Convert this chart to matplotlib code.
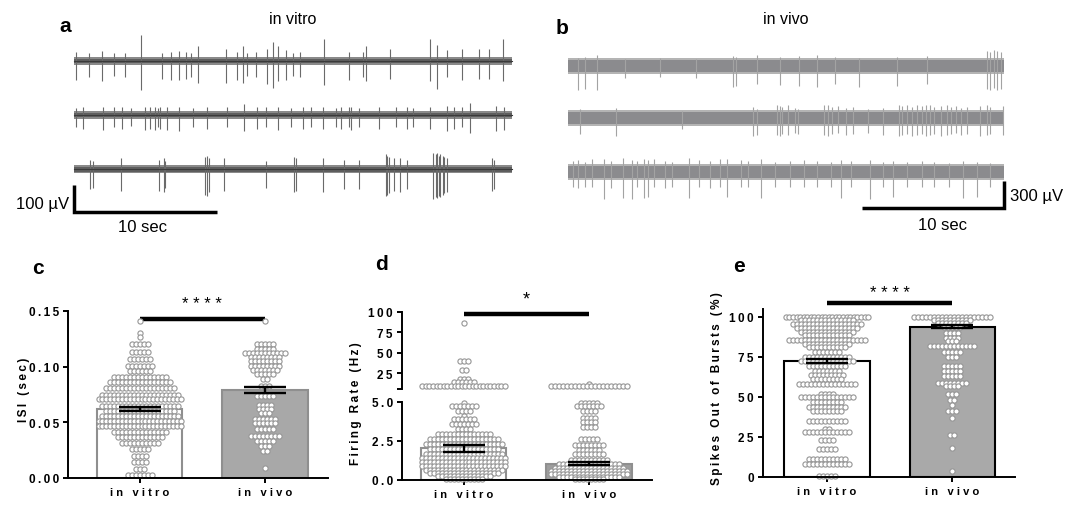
import numpy as np
import matplotlib.pyplot as plt

plt.rcParams['font.family'] = ['Liberation Sans', 'DejaVu Sans']

# ---- trace data: spike times (s), up / down amplitudes (uV) ----
vitro_len = 30.6
vitro_t1 = [0.17, 1.04, 1.98, 2.77, 3.54, 4.70, 6.15, 6.80, 7.35, 7.83, 8.19, 8.68, 10.6, 11.4, 11.8, 12.1, 12.7,
            13.5, 13.9, 14.3, 14.8, 15.3, 15.8, 17.5, 19.2, 20.2, 20.4, 22.1, 24.9, 25.4, 26.1, 27.1, 28.3, 29.0, 30.0]
vitro_up1 = [35, 30, 38, 30, 30, 96, 30, 35, 38, 35, 30, 55, 45, 35, 55, 30, 35,
             45, 70, 55, 40, 30, 35, 80, 35, 35, 55, 45, 80, 60, 40, 45, 45, 45, 80]
vitro_dn1 = [70, 60, 75, 55, 60, 108, 65, 70, 72, 65, 60, 80, 80, 70, 80, 55, 60,
             85, 100, 75, 70, 55, 60, 90, 70, 60, 75, 65, 75, 105, 60, 70, 65, 65, 75]
vitro_t2 = [0.17, 0.60, 2.05, 2.77, 3.37, 3.98, 4.94, 5.30, 5.66, 5.86, 6.03, 6.51, 7.35, 8.31, 9.28, 10.7, 11.9,
            12.8, 13.4, 14.3, 15.2, 16.0, 16.6, 17.4, 18.3, 18.7, 19.2, 19.4, 19.9, 21.3, 22.5, 23.3, 23.7, 24.9,
            26.1, 26.6, 27.1, 27.7, 29.5, 30.1]
vitro_up2 = [25, 28, 30, 28, 30, 25, 30, 28, 30, 25, 28, 30, 28, 25, 30, 28, 40,
             30, 28, 30, 25, 30, 28, 30, 25, 30, 28, 30, 25, 30, 28, 30, 25, 30,
             35, 30, 28, 45, 35, 30]
vitro_dn2 = [45, 50, 55, 45, 50, 40, 55, 50, 55, 45, 50, 55, 60, 45, 50, 45, 60,
             50, 45, 55, 45, 50, 45, 50, 45, 50, 45, 55, 45, 50, 45, 50, 45, 50,
             60, 50, 45, 65, 60, 55]
vitro_t3 = [1.13, 1.33, 3.30, 5.95, 6.27, 6.39, 9.16, 9.28, 9.45, 10.5, 13.4, 15.4, 15.5, 17.4, 18.9, 19.9,
            21.8, 21.9, 22.0, 22.4, 22.8, 23.3, 25.1, 25.3, 25.4, 25.5, 25.6, 25.8, 25.9, 26.1, 29.2, 29.4]
vitro_up3 = [35, 30, 40, 35, 40, 30, 45, 50, 40, 40, 30, 45, 40, 40, 35, 35,
             55, 50, 45, 40, 40, 35, 60, 55, 58, 50, 55, 50, 45, 40, 40, 35]
vitro_dn3 = [75, 70, 80, 80, 85, 70, 95, 100, 85, 80, 70, 85, 80, 85, 75, 75,
             100, 95, 90, 80, 85, 75, 110, 105, 108, 100, 105, 95, 90, 85, 80, 75]

vivo_len = 30.7
vivo_t1 = [0.68, 1.22, 2.07, 4.0, 6.5, 9.0, 11.6, 11.8, 13.3, 14.9, 16.3, 17.5, 18.8, 20.5, 23.2, 25.3,
           29.5, 29.7, 30.0, 30.2, 30.5]
vivo_up1 = [90, 100, 120, 80, 90, 80, 110, 100, 120, 100, 110, 120, 100, 90, 100, 110,
            160, 150, 170, 160, 150]
vivo_dn1 = [270, 260, 270, 130, 120, 130, 230, 220, 200, 210, 220, 240, 200, 230, 220, 200,
            260, 270, 250, 270, 260]
vivo_t2 = [0.85, 3.41, 8.0, 13.0, 13.3, 14.7, 14.9, 15.1, 15.5, 16.0, 16.2, 18.0, 18.3, 18.6, 19.0, 19.6,
           20.1, 21.1, 22.2, 23.3, 23.5, 23.9, 24.2, 24.6, 24.9, 25.2, 25.5, 25.8, 26.3, 26.7, 27.0, 27.3,
           27.7, 28.1, 29.0, 29.5, 29.7, 30.6]
vivo_up2 = [100, 110, 80, 120, 100, 140, 130, 120, 140, 110, 100, 150, 140, 120, 130, 110,
            120, 100, 110, 140, 130, 150, 120, 140, 130, 150, 140, 120, 130, 140, 120, 130,
            110, 120, 130, 140, 120, 130]
vivo_dn2 = [180, 200, 120, 200, 190, 190, 200, 180, 190, 170, 180, 190, 200, 180, 170, 190,
            180, 170, 190, 200, 190, 180, 200, 190, 180, 200, 190, 180, 200, 190, 180, 170,
            190, 180, 200, 190, 180, 190]
vivo_t3 = [0.37, 0.73, 1.22, 1.71, 2.56, 3.05, 3.90, 4.51, 4.87, 5.36, 5.60, 6.09, 6.82, 7.31, 8.53, 9.26,
           9.99, 10.7, 11.2, 12.2, 12.7, 13.6, 14.6, 15.6, 16.6, 17.5, 18.5, 19.2, 19.9, 21.3, 22.2, 22.9,
           23.9, 24.9, 25.8, 26.8, 27.8, 28.8, 29.7]
vivo_up3 = [120, 130, 110, 140, 150, 120, 160, 130, 120, 140, 130, 150, 120, 110, 160, 130,
            120, 140, 150, 130, 120, 140, 110, 120, 130, 120, 110, 130, 120, 130, 110, 120,
            110, 120, 110, 100, 120, 110, 100]
vivo_dn3 = [170, 180, 160, 170, 300, 180, 290, 300, 170, 290, 280, 170, 180, 160, 290, 170,
            180, 170, 280, 170, 160, 290, 170, 160, 170, 160, 170, 290, 170, 300, 170, 280,
            160, 170, 160, 170, 290, 280, 170]

# ---- scatter data: (value, number of cells at that value) ----
isi_vitro = [(0.141, 1), (0.130, 1), (0.127, 1), (0.120, 5), (0.113, 5), (0.107, 6), (0.101, 7), (0.096, 6),
             (0.091, 14), (0.086, 16), (0.081, 18), (0.075, 20), (0.071, 22), (0.065, 20), (0.060, 18),
             (0.056, 20), (0.051, 22), (0.047, 22), (0.041, 14), (0.037, 12), (0.031, 10), (0.026, 5),
             (0.020, 4), (0.014, 4), (0.008, 3), (0.003, 7)]
isi_vivo = [(0.141, 1), (0.120, 5), (0.116, 5), (0.112, 11), (0.109, 8), (0.105, 8), (0.101, 8), (0.097, 7),
            (0.093, 5), (0.089, 2), (0.083, 3), (0.074, 5), (0.066, 4), (0.062, 4), (0.058, 3), (0.053, 6),
            (0.049, 6), (0.044, 5), (0.038, 8), (0.033, 5), (0.029, 3), (0.024, 2), (0.009, 1)]
isi_mean = [0.062, 0.079]
isi_sem = [0.0018, 0.003]

fr_vitro = [(87, 1), (40, 3), (29, 2), (18, 3), (14, 6), (9.5, 24), (4.94, 1), (4.74, 7), (4.4, 4), (4.1, 1),
            (3.9, 6), (3.6, 7), (3.3, 4), (2.95, 14), (2.63, 18), (2.3, 20), (2.0, 18), (1.67, 20), (1.4, 22),
            (1.15, 22), (0.9, 22), (0.65, 20), (0.45, 18), (0.25, 14), (0.08, 10)]
fr_vivo = [(12, 1), (9.5, 20), (4.94, 5), (4.74, 7), (4.4, 4), (4.0, 4), (3.7, 4), (3.4, 4), (2.63, 5),
           (2.25, 8), (1.95, 6), (1.67, 8), (1.3, 10), (1.0, 16), (0.8, 18), (0.6, 20), (0.4, 20), (0.2, 16),
           (0.05, 8)]
fr_mean = [2.02, 1.05]
fr_sem = [0.25, 0.1]

sob_vitro = [(100, 24), (98, 14), (95.6, 18), (93, 16), (90.6, 14), (89, 12), (85.6, 20), (83, 12), (81.3, 10),
             (78.4, 7), (75, 12), (72.5, 14), (69.4, 10), (66.3, 7), (63.8, 9), (61, 8), (58, 15), (52, 4),
             (50, 14), (47, 8), (44, 10), (41, 8), (35, 10), (30, 2), (28, 12), (23, 4), (17.5, 5), (11, 10),
             (8, 12), (0.5, 5)]
sob_vivo = [(100, 20), (98, 10), (96.5, 8), (94, 5), (90, 4), (87, 4), (85, 3), (82, 12), (78, 5), (75, 3),
            (69.4, 5), (66.3, 5), (63, 5), (59, 8), (57, 4), (52, 3), (48, 2), (45, 1), (41, 3), (37, 1),
            (26, 2), (18, 1), (4, 1)]
sob_mean = [72.5, 94.0]
sob_sem = [1.5, 1.0]

groups = ['in vitro', 'in vivo']

W, H = 1083, 506
fig = plt.figure(figsize=(W / 100, H / 100), dpi=100)


def box(x0, y0, x1, y1):
    return [x0 / W, 1 - y1 / H, (x1 - x0) / W, (y1 - y0) / H]


def spaced(s, gap=' '):
    return gap.join(s)


def thin(s):
    return spaced(s, '\u2009')


def ftext(px, py, s, **kw):
    fig.text(px / W, 1 - py / H, s, **kw)


# ---------------- panel a ----------------
axa = fig.add_axes(box(60, 20, 520, 240))
axa.set_xlim((60 - 74) / 14.3, (520 - 74) / 14.3)
axa.set_ylim((62 - 240) * 3.7, (62 - 20) * 3.7)
axa.axis('off')
for base, t, up, dn in [(0, vitro_t1, vitro_up1, vitro_dn1),
                        (-200, vitro_t2, vitro_up2, vitro_dn2),
                        (-400, vitro_t3, vitro_up3, vitro_dn3)]:
    axa.vlines(t, base - np.array(dn), base + np.array(up), color='#6a6a6a', lw=0.8)
    axa.fill_between([0, vitro_len], base - 15, base + 15, color='#8a8a8a', lw=0)
    axa.fill_between([0, vitro_len], base - 9, base + 9, color='#5e5e5e', lw=0)
    axa.plot([0, vitro_len], [base, base], color='#3a3a3a', lw=0.8)
axa.plot([0, 0, 10], [-460, -560, -560], color='k', lw=2.5, solid_joinstyle='miter', solid_capstyle='butt')

# ---------------- panel b ----------------
axb = fig.add_axes(box(550, 20, 1075, 240))
axb.set_xlim((550 - 568) / 14.2, (1075 - 568) / 14.2)
axb.set_ylim((65 - 240) * 11.1, (65 - 20) * 11.1)
axb.axis('off')
for base, t, up, dn in [(-20, vivo_t1, vivo_up1, vivo_dn1),
                        (-600, vivo_t2, vivo_up2, vivo_dn2),
                        (-1200, vivo_t3, vivo_up3, vivo_dn3)]:
    axb.vlines(t, base - np.array(dn), base + np.array(up), color='#a3a3a3', lw=0.8)
    axb.fill_between([0, vivo_len], base - 90, base + 90, color='#b4b4b4', lw=0)
    axb.fill_between([0, vivo_len], base - 65, base + 65, color='#8b8b8e', lw=0)
axb.plot([vivo_len - 10, vivo_len, vivo_len], [-1600, -1600, -1300], color='k', lw=2.5,
         solid_joinstyle='miter', solid_capstyle='butt')

ftext(65, 27, 'a', fontsize=15, fontweight='bold', ha='center', va='center')
ftext(562, 28, 'b', fontsize=15, fontweight='bold', ha='center', va='center')
ftext(293, 19, 'in vitro', fontsize=11.5, ha='center', va='center')
ftext(786, 19, 'in vivo', fontsize=11.5, ha='center', va='center')
ftext(69, 204, '100 µV', fontsize=12, ha='right', va='center')
ftext(143, 228, '10 sec', fontsize=12, ha='center', va='center')
ftext(1010, 197, '300 µV', fontsize=12, ha='left', va='center')
ftext(942, 226, '10 sec', fontsize=12, ha='center', va='center')

MS = 14
ECOL = '#959595'


# ---------------- bar panels ----------------
def swarm(rows, center):
    xs, ys = [], []
    for v, n in rows:
        step = min(4.0, 86 / n) / 125.5
        off = (np.arange(n) - (n - 1) / 2) * step
        xs.extend(center + off)
        ys.extend([v] * n)
    return np.array(xs), np.array(ys)


def style(ax):
    for side in ['top', 'right']:
        ax.spines[side].set_visible(False)
    for side in ['left', 'bottom']:
        ax.spines[side].set_linewidth(1.4)
    ax.tick_params(width=1.4, length=3.5, labelsize=8.5, pad=3)
    ax.tick_params(axis='x', labelsize=8)
    for lab in ax.get_yticklabels() + ax.get_xticklabels():
        lab.set_fontweight('bold')


def draw_bars(ax, rows_a, rows_b, means, sems, colors, edges, ymax=None):
    ax.bar([0, 1], means, width=0.68, color=colors, edgecolor=edges, linewidth=1.5, zorder=1)
    for i, rows in enumerate([rows_a, rows_b]):
        xs, ys = swarm(rows, i)
        keep = np.ones(len(ys), bool)
        if ymax is not None:
            keep &= ys <= ymax
        ax.scatter(xs[keep], ys[keep], s=MS, facecolor='white', edgecolor=ECOL, linewidths=0.8,
                   zorder=2, clip_on=False)
    ax.errorbar([0, 1], means, yerr=sems, fmt='none', ecolor='k', elinewidth=1.7, capsize=15,
                capthick=1.7, zorder=3)


# c
axc = fig.add_axes(box(68, 312, 328, 479))
draw_bars(axc, isi_vitro, isi_vivo, isi_mean, isi_sem, ['white', '#a8a8a8'], ['#8f8f8f', '#8f8f8f'])
axc.set_xlim(-0.57, 1.50)
axc.set_ylim(0, 0.15)
axc.set_yticks([0, 0.05, 0.10, 0.15])
axc.set_yticklabels([thin(s) for s in ['0.00', '0.05', '0.10', '0.15']])
axc.set_xticks([0, 1])
axc.set_xticklabels([spaced(g) for g in groups])
style(axc)
axc.plot([0, 1], [0.1428, 0.1428], color='k', lw=3.2, solid_capstyle='butt', clip_on=False, zorder=1)
axc.text(0.5, 0.157, '* * * *', fontsize=12, ha='center', va='center', clip_on=False)

# d (broken axis)
axd = fig.add_axes(box(402, 403, 652, 481))
draw_bars(axd, fr_vitro, fr_vivo, fr_mean, fr_sem, ['white', '#9e9e9e'], ['#8f8f8f', '#8f8f8f'], ymax=5)
axd.set_xlim(-0.49, 1.50)
axd.set_ylim(0, 5)
axd.set_yticks([0, 2.5, 5])
axd.set_yticklabels([thin(s) for s in ['0.0', '2.5', '5.0']])
axd.set_xticks([0, 1])
axd.set_xticklabels([spaced(g) for g in groups])
style(axd)

axd2 = fig.add_axes(box(402, 313, 652, 390.3))
for i, rows in enumerate([fr_vitro, fr_vivo]):
    xs, ys = swarm(rows, i)
    keep = ys > 5
    axd2.scatter(xs[keep], ys[keep], s=MS, facecolor='white', edgecolor=ECOL, linewidths=0.8,
                 zorder=2, clip_on=False)
axd2.set_xlim(-0.49, 1.50)
axd2.set_ylim(5, 100)
axd2.set_yticks([5, 25, 50, 75, 100])
axd2.set_yticklabels([''] + [thin(s) for s in ['25', '50', '75', '100']])
axd2.set_xticks([])
style(axd2)
axd2.spines['bottom'].set_visible(False)
axd2.patch.set_alpha(0)
axd2.plot([0, 1], [97.6, 97.6], color='k', lw=3.2, solid_capstyle='butt', clip_on=False)
axd2.text(0.5, 116, '*', fontsize=13, ha='center', va='center', clip_on=False)

# e
axe = fig.add_axes(box(763, 310, 1015, 478))
draw_bars(axe, sob_vitro, sob_vivo, sob_mean, sob_sem, ['white', '#a9a9a9'], ['k', 'k'])
axe.set_xlim(-0.51, 1.50)
axe.set_ylim(0, 105)
axe.set_yticks([0, 25, 50, 75, 100])
axe.set_yticklabels([thin(s) for s in ['0', '25', '50', '75', '100']])
axe.set_xticks([0, 1])
axe.set_xticklabels([spaced(g) for g in groups])
style(axe)
axe.plot([0, 1], [108.7, 108.7], color='k', lw=3.2, solid_capstyle='butt', clip_on=False)
axe.text(0.5, 115.6, '* * * *', fontsize=12, ha='center', va='center', clip_on=False)

ftext(38, 268, 'c', fontsize=15, fontweight='bold', ha='center', va='center')
ftext(382, 265, 'd', fontsize=15, fontweight='bold', ha='center', va='center')
ftext(739, 267, 'e', fontsize=15, fontweight='bold', ha='center', va='center')
ftext(24, 390, thin('ISI (sec)'), fontsize=8.5, fontweight='bold', rotation=90, ha='center', va='center')
ftext(356, 404, thin('Firing Rate (Hz)'), fontsize=8.5, fontweight='bold', rotation=90, ha='center',
      va='center')
ftext(717, 389, thin('Spikes Out of Bursts (%)'), fontsize=8.5, fontweight='bold', rotation=90, ha='center',
      va='center')

fig.savefig('out.png', dpi=100)
